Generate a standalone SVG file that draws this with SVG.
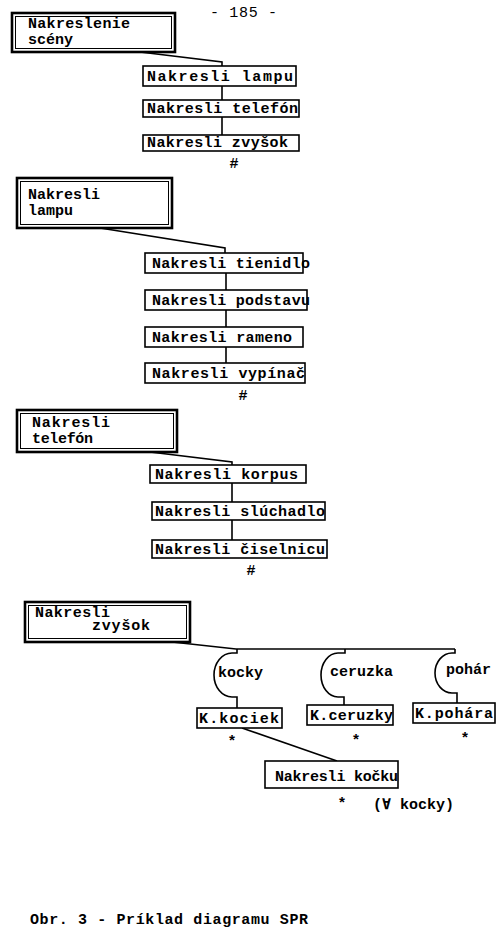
<svg xmlns="http://www.w3.org/2000/svg" width="503" height="935" viewBox="0 0 503 935">
<style>
text{font-family:"Liberation Mono","DejaVu Sans Mono",monospace;font-size:15px;font-weight:bold;fill:#000}
.box{fill:#fff;stroke:#000;stroke-width:1.6}
.outer{fill:#fff;stroke:#000;stroke-width:2.6}
.inner{fill:none;stroke:#000;stroke-width:1}
.ln{fill:none;stroke:#000;stroke-width:1.6}
.mk{font-size:15px;text-anchor:middle}
</style>
<rect width="503" height="935" fill="#fff"/>
<text x="210" y="17" textLength="67" lengthAdjust="spacing" style="font-weight:normal;font-size:15px">- 185 -</text>

<g id="connectors">
<path class="ln" d="M140,52 L222,62 V67"/>
<path class="ln" d="M222,86 V100 M222,117 V135"/>
<path class="ln" d="M100,228 L225,248 V253"/>
<path class="ln" d="M226,273 V290 M226,310 V327 M226,347 V363"/>
<path class="ln" d="M150,452 L232,462 V465"/>
<path class="ln" d="M232,483 V502 M232,520 V540"/>
<path class="ln" d="M163,641 L236,649 H455"/>
<path class="ln" d="M237,649 V653 H232 A18 22 0 0 0 232,697 H237 V708"/>
<path class="ln" d="M345,649 V653 H338 A17 22 0 0 0 338,697 H344 V705"/>
<path class="ln" d="M455,649 V653 H452 A17 20 0 0 0 452,693 H457 V703"/>
<path class="ln" d="M242,728 L337,761"/>
</g>

<g id="n-scena">
<rect class="outer" x="12" y="13" width="163" height="39"/>
<rect class="inner" x="15.5" y="16.5" width="156" height="32"/>
<text x="28" y="28" textLength="102" lengthAdjust="spacing">Nakreslenie</text>
<text x="28" y="44" textLength="45" lengthAdjust="spacing">scény</text>
</g>
<g id="n-lampu1"><rect class="box" x="143" y="66" width="153" height="20"/><text x="147" y="81" textLength="146" lengthAdjust="spacing">Nakresli lampu</text></g>
<g id="n-telefon1"><rect class="box" x="143" y="100" width="156" height="17"/><text x="147" y="113" textLength="151" lengthAdjust="spacing">Nakresli telefón</text></g>
<g id="n-zvysok1"><rect class="box" x="143" y="135" width="156" height="16"/><text x="147" y="147" textLength="141" lengthAdjust="spacing">Nakresli zvyšok</text></g>
<text class="mk" x="234" y="168">#</text>

<g id="n-lampu">
<rect class="outer" x="17" y="178" width="155" height="50"/>
<rect class="inner" x="20.5" y="181.5" width="148" height="43"/>
<text x="28" y="199" textLength="72" lengthAdjust="spacing">Nakresli</text>
<text x="28" y="215" textLength="45" lengthAdjust="spacing">lampu</text>
</g>
<g id="n-tienidlo"><rect class="box" x="145" y="253" width="158" height="20"/><text x="152" y="268" textLength="158" lengthAdjust="spacing">Nakresli tienidlo</text></g>
<g id="n-podstavu"><rect class="box" x="145" y="290" width="162" height="20"/><text x="152" y="305" textLength="158" lengthAdjust="spacing">Nakresli podstavu</text></g>
<g id="n-rameno"><rect class="box" x="145" y="327" width="158" height="20"/><text x="152" y="342" textLength="140" lengthAdjust="spacing">Nakresli rameno</text></g>
<g id="n-vypinac"><rect class="box" x="145" y="363" width="160" height="20"/><text x="152" y="378" textLength="153" lengthAdjust="spacing">Nakresli vypínač</text></g>
<text class="mk" x="243" y="400">#</text>

<g id="n-telefon">
<rect class="outer" x="17" y="410" width="160" height="42"/>
<rect class="inner" x="20.5" y="413.5" width="153" height="35"/>
<text x="32" y="427" textLength="78" lengthAdjust="spacing">Nakresli</text>
<text x="32" y="443" textLength="61" lengthAdjust="spacing">telefón</text>
</g>
<g id="n-korpus"><rect class="box" x="150" y="465" width="156" height="18"/><text x="155" y="479" textLength="143" lengthAdjust="spacing">Nakresli korpus</text></g>
<g id="n-sluchadlo"><rect class="box" x="152" y="502" width="173" height="18"/><text x="155" y="516" textLength="170" lengthAdjust="spacing">Nakresli slúchadlo</text></g>
<g id="n-ciselnicu"><rect class="box" x="152" y="540" width="175" height="18"/><text x="155" y="554" textLength="170" lengthAdjust="spacing">Nakresli čiselnicu</text></g>
<text class="mk" x="251" y="575">#</text>

<g id="n-zvysok">
<rect class="outer" x="25" y="602" width="165" height="40"/>
<rect class="inner" x="28.5" y="605.5" width="158" height="33"/>
<text x="35" y="617" textLength="75" lengthAdjust="spacing">Nakresli</text>
<text x="92" y="630" textLength="58" lengthAdjust="spacing">zvyšok</text>
</g>
<text x="218" y="677" textLength="45" lengthAdjust="spacing">kocky</text>
<text x="330" y="676" textLength="63" lengthAdjust="spacing">ceruzka</text>
<text x="446" y="674" textLength="45" lengthAdjust="spacing">pohár</text>
<g id="n-kociek"><rect class="box" x="197" y="708" width="85" height="20"/><text x="199" y="723" textLength="80" lengthAdjust="spacing">K.kociek</text></g>
<g id="n-ceruzky"><rect class="box" x="307" y="705" width="86" height="20"/><text x="310" y="720" textLength="83" lengthAdjust="spacing">K.ceruzky</text></g>
<g id="n-pohara"><rect class="box" x="413" y="703" width="82" height="20"/><text x="415" y="718" textLength="78" lengthAdjust="spacing">K.pohára</text></g>
<text class="mk" x="232" y="746">*</text>
<text class="mk" x="356" y="745">*</text>
<text class="mk" x="465" y="743">*</text>
<g id="n-kocku"><rect class="box" x="265" y="761" width="133" height="27"/><text x="275" y="781" textLength="123" lengthAdjust="spacing">Nakresli kočku</text></g>
<text class="mk" x="342" y="808">*</text>
<text x="373" y="809" textLength="81" lengthAdjust="spacing">(∀ kocky)</text>

<text x="30" y="924" textLength="278" lengthAdjust="spacing">Obr. 3 - Príklad diagramu SPR</text>
</svg>
